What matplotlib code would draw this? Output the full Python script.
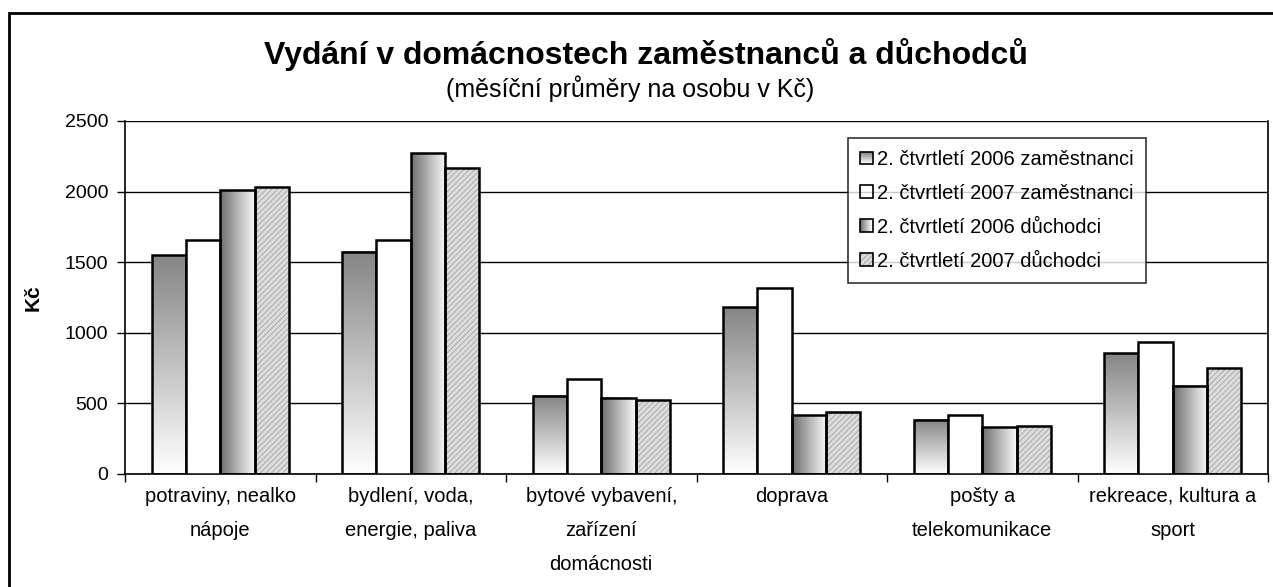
import matplotlib
matplotlib.use('Agg')
import matplotlib.pyplot as plt
import numpy as np
from matplotlib.patches import Rectangle
from matplotlib.colors import LinearSegmentedColormap
from matplotlib.legend_handler import HandlerBase

plt.rcParams['font.family'] = ['Liberation Sans', 'DejaVu Sans']
plt.rcParams['hatch.linewidth'] = 0.5

# data
kategorie = ['potraviny, nealko\nnápoje', 'bydlení, voda,\nenergie, paliva',
             'bytové vybavení,\nzařízení\ndomácnosti', 'doprava',
             'pošty a\ntelekomunikace', 'rekreace, kultura a\nsport']
serie = ['2. čtvrtletí 2006 zaměstnanci', '2. čtvrtletí 2007 zaměstnanci',
         '2. čtvrtletí 2006 důchodci', '2. čtvrtletí 2007 důchodci']
zam_2006 = [1550, 1575, 555, 1180, 385, 855]
zam_2007 = [1660, 1660, 670, 1320, 415, 935]
duch_2006 = [2010, 2270, 540, 415, 330, 625]
duch_2007 = [2030, 2170, 525, 440, 340, 750]
hodnoty = [zam_2006, zam_2007, duch_2006, duch_2007]
styly = ['vert', 'white', 'horiz', 'hatch']

cm_vert = LinearSegmentedColormap.from_list('v', ['#858585', '#ffffff'])
cm_horiz = LinearSegmentedColormap.from_list('h', ['#6e6e6e', '#fafafa'])
grad = np.linspace(0, 1, 256)


class GradHandler(HandlerBase):
    def create_artists(self, legend, orig_handle, xdescent, ydescent,
                       width, height, fontsize, trans):
        styl = orig_handle.get_label_style
        s = height
        x0, y0 = -xdescent + (width - s) / 2, -ydescent
        arts = []
        n = 12
        if styl == 'vert':
            for i in range(n):
                c = cm_vert(1 - i / (n - 1))
                arts.append(Rectangle((x0, y0 + i * s / n), s, s / n, fc=c, lw=0, transform=trans))
        elif styl == 'horiz':
            for i in range(n):
                c = cm_horiz(i / (n - 1))
                arts.append(Rectangle((x0 + i * s / n, y0), s / n, s, fc=c, lw=0, transform=trans))
        elif styl == 'hatch':
            arts.append(Rectangle((x0, y0), s, s, fc='#dcdcdc', hatch='//////',
                                  ec='#999999', lw=0, transform=trans))
        arts.append(Rectangle((x0, y0), s, s, fc='none', ec='black', lw=1.2, transform=trans))
        return arts


fig = plt.figure(figsize=(12.73, 5.87), dpi=100)
ax = fig.add_axes([125 / 1273, 113 / 587, 1143 / 1273, 353 / 587])

x = np.arange(len(kategorie))
sirka = 0.18
for j, (vals, st) in enumerate(zip(hodnoty, styly)):
    pos = x - 1.5 * sirka + j * sirka
    for p, v in zip(pos, vals):
        x0, x1 = p - sirka / 2, p + sirka / 2
        if st == 'vert':
            ax.imshow(grad.reshape(-1, 1), cmap=cm_vert, extent=(x0, x1, 0, v),
                      aspect='auto', origin='upper', zorder=2)
        elif st == 'horiz':
            ax.imshow(grad.reshape(1, -1), cmap=cm_horiz, extent=(x0, x1, 0, v),
                      aspect='auto', zorder=2)
    if st == 'hatch':
        ax.bar(pos, vals, sirka, facecolor='#dcdcdc', hatch='//////',
               edgecolor='#999999', linewidth=0, zorder=2)
    fc = 'white' if st == 'white' else 'none'
    ax.bar(pos, vals, sirka, facecolor=fc, edgecolor='black', linewidth=1.8, zorder=3)

ax.set_xlim(-0.5, len(kategorie) - 0.5)
ax.set_ylim(0, 2500)
ax.set_yticks(np.arange(0, 2501, 500))
ax.yaxis.grid(True, color='black', linewidth=1)
ax.set_axisbelow(True)
ax.set_xticks(np.arange(-0.5, len(kategorie), 1))
ax.set_xticklabels([])
ax.set_xticks(x, minor=True)
ax.set_xticklabels(kategorie, minor=True, fontsize=14.5, linespacing=2.0)
ax.tick_params(axis='x', which='minor', length=0, pad=9)
ax.tick_params(axis='x', which='major', length=6, direction='out', width=1)
ax.tick_params(axis='y', length=6, direction='out', width=1, labelsize=14, pad=6)
for sp in ax.spines.values():
    sp.set_linewidth(1.2)
ax.spines['top'].set_visible(False)
ax.set_ylabel('Kč', fontsize=15, fontweight='bold', labelpad=16)

fig.text(646 / 1273, 1 - 55 / 587, 'Vydání v domácnostech zaměstnanců a důchodců',
         fontsize=23, fontweight='bold', ha='center', va='center')
fig.text(630 / 1273, 1 - 89 / 587, '(měsíční průměry na osobu v Kč)',
         fontsize=18, ha='center', va='center')

# frame around the figure
fig.patches.append(Rectangle((9 / 1273, -0.1), 1.2, 1.1 - 13 / 587,
                             transform=fig.transFigure, fill=False,
                             edgecolor='black', linewidth=2))


class H:
    def __init__(self, st):
        self.get_label_style = st


handles = [H(st) for st in styly]
leg = ax.legend(handles, serie, handler_map={H: GradHandler()},
                loc='upper left', bbox_to_anchor=(848 / 1273, 1 - 138 / 587),
                bbox_transform=fig.transFigure, borderaxespad=0,
                fontsize=14.5, frameon=True, fancybox=False, shadow=False,
                handlelength=0.6, handleheight=0.6, handletextpad=0.25,
                labelspacing=0.74, borderpad=0.6)
leg.get_frame().set_edgecolor('black')
leg.get_frame().set_linewidth(1.2)
leg.set_zorder(5)

fig.savefig('out.png', dpi=100)
